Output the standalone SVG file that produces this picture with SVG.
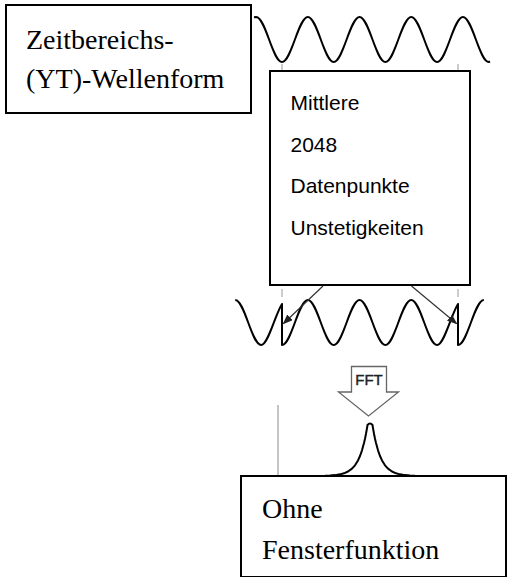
<svg xmlns="http://www.w3.org/2000/svg" width="507" height="577" viewBox="0 0 507 577">
<style>
.box{fill:#fff;stroke:#000;stroke-width:2}
.serif{font-family:"Liberation Serif","Times New Roman",serif;font-size:28px;fill:#000}
.sans{font-family:"Liberation Sans",Arial,sans-serif;font-size:21px;fill:#000}
.wave{fill:none;stroke:#000;stroke-width:2;stroke-linejoin:round}
.tick{stroke:#999;stroke-width:1}
.conn{stroke:#333;stroke-width:1.2;fill:none}
</style>
<defs>
<marker id="ah" markerWidth="10" markerHeight="8" refX="9" refY="4" orient="auto" markerUnits="userSpaceOnUse">
<path d="M0,0 L10,4 L0,8 z" fill="#222"/>
</marker>
</defs>
<rect width="507" height="577" fill="#fff"/>
<path class="wave" d="M254,17.2 L256.15,17 C265.54,17 272.61,62 282,62 C291.39,62 298.46,17 307.85,17 C317.24,17 324.31,62 333.7,62 C343.09,62 350.16,17 359.55,17 C368.94,17 376.01,62 385.4,62 C394.79,62 401.86,17 411.25,17 C420.64,17 427.71,62 437.1,62 C446.49,62 453.56,17 462.95,17 C472.34,17 479.41,62 488.8,62 L490,61.5"/>
<path class="wave" d="M235.25,300 C244.64,300 251.71,345 261.1,345 C268.07,345 275.03,314.75 282,303.95 L282,345 C291.39,345 298.46,300 307.85,300 C317.24,300 324.31,345 333.7,345 C343.09,345 350.16,300 359.55,300 C368.94,300 376.01,345 385.4,345 C394.79,345 401.86,300 411.25,300 C420.64,300 427.71,345 437.1,345 C444.07,345 451.03,314.75 458,303.95 L458,345 C467.39,345 474.46,300 483.85,300"/>
<line class="tick" x1="282" y1="64" x2="282" y2="70"/>
<line class="tick" x1="458" y1="64" x2="458" y2="70"/>
<line class="tick" x1="282" y1="289" x2="282" y2="297"/>
<line class="tick" x1="458" y1="289" x2="458" y2="297"/>
<g id="fft">
<polygon points="351.5,366.5 386.5,366.5 386.5,392 398.5,392 368.5,416 338.5,392 351.5,392" fill="#fff" stroke="#666" stroke-width="1.3"/>
<text x="369" y="385" text-anchor="middle" font-family="'Liberation Sans',Arial,sans-serif" font-size="15" fill="#222" stroke="#222" stroke-width="0.4">FFT</text>
</g>
<line x1="278" y1="405" x2="278" y2="476" stroke="#888" stroke-width="1"/>
<g id="spectrum-box">
<rect class="box" x="241" y="476" width="265" height="101"/>
<text class="serif" x="262" y="517.5">Ohne</text>
<text class="serif" x="262" y="558.5">Fensterfunktion</text>
</g>
<path class="wave" d="M325,475.75 L330,475.53 L335,475.12 L340,474.36 L344,473.3 L348,471.54 L352,468.65 L355,465.31 L358,460.45 L360,456.03 L362,450.36 L364,443.07 L365,438.69 L366,433.72 L367,428.09 L367.5,425 Q370,422 372.5,425 L373,428.09 L374,433.72 L375,438.69 L376,443.07 L378,450.36 L380,456.03 L382,460.45 L385,465.31 L388,468.65 L392,471.54 L396,473.3 L400,474.36 L405,475.12 L410,475.53 L415,475.75"/>
<g id="yt-box">
<rect class="box" x="6" y="5" width="245" height="108"/>
<text class="serif" x="26" y="49">Zeitbereichs-</text>
<text class="serif" x="26" y="88">(YT)-Wellenform</text>
</g>
<g id="info-box">
<rect class="box" x="270" y="71" width="200" height="214"/>
<text class="sans" x="290.5" y="110">Mittlere</text>
<text class="sans" x="290.5" y="151.7">2048</text>
<text class="sans" x="290.5" y="193.3">Datenpunkte</text>
<text class="sans" x="290.5" y="235">Unstetigkeiten</text>
</g>
<g id="connectors">
<line class="conn" x1="323" y1="286" x2="283.5" y2="323.5" marker-end="url(#ah)"/>
<line class="conn" x1="411.5" y1="286" x2="456.5" y2="323.5" marker-end="url(#ah)"/>
</g>
</svg>
